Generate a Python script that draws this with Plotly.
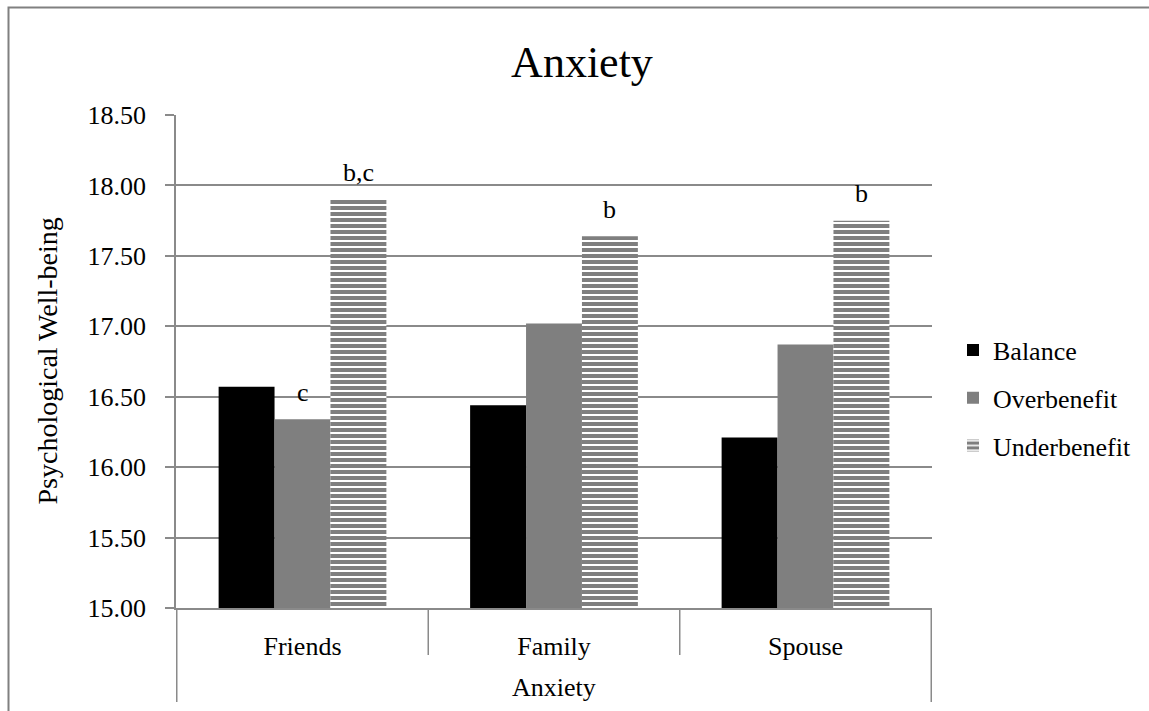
import plotly.graph_objects as go

categories = ["Friends", "Family", "Spouse"]
balance = [16.57, 16.44, 16.21]
overbenefit = [16.34, 17.02, 16.87]
underbenefit = [17.90, 17.64, 17.75]
series_names = ["Balance", "Overbenefit", "Underbenefit"]
y_ticks = [15.0, 15.5, 16.0, 16.5, 17.0, 17.5, 18.0, 18.5]
sig_labels = {("Overbenefit", 0): "c", ("Underbenefit", 0): "b,c",
              ("Underbenefit", 1): "b", ("Underbenefit", 2): "b"}

FONT = "Liberation Serif"
GRID = "#8a8a8a"
BARGAP = 0.333

fig = go.Figure()
fig.add_trace(go.Bar(name="Balance", x=categories, y=balance, marker_color="black",
                     marker_line_width=0, legendgroup="a"))
fig.add_trace(go.Bar(name="Overbenefit", x=categories, y=overbenefit, marker_color="#7f7f7f",
                     marker_line_width=0, legendgroup="b"))
fig.add_trace(go.Bar(name="Underbenefit", x=categories, y=underbenefit,
                     marker=dict(color="white", line_width=0,
                                 pattern=dict(shape="-", fgcolor="#7f7f7f", bgcolor="white",
                                              size=6, solidity=0.67, fillmode="replace")),
                     legendgroup="c"))

series_vals = {"Balance": balance, "Overbenefit": overbenefit, "Underbenefit": underbenefit}
w = (1 - BARGAP) / len(series_names)
annotations = []
for (name, ci), txt in sig_labels.items():
    j = series_names.index(name)
    annotations.append(dict(x=ci + (j - 1) * w, y=series_vals[name][ci], xref="x", yref="y",
                            text=txt, showarrow=False, yanchor="middle", yshift=27,
                            font=dict(family=FONT, size=26, color="black")))

H = 493.0
annotations.append(dict(x=0.5, y=-79 / H, xref="paper", yref="paper", text="Anxiety",
                        showarrow=False, yanchor="middle",
                        font=dict(family=FONT, size=26, color="black")))
annotations.append(dict(x=(47 - 176) / 756, y=0.5, xref="paper", yref="paper",
                        text="Psychological Well-being", textangle=-90, showarrow=False,
                        xanchor="center", yanchor="middle",
                        font=dict(family=FONT, size=28, color="black")))

shapes = []
n = len(categories)
for k in range(n + 1):
    edge = k == 0 or k == n
    shapes.append(dict(type="line", xref="x", yref="paper", x0=k - 0.5, x1=k - 0.5,
                       y0=0, y1=(-94 if edge else -47) / H,
                       line=dict(color=GRID, width=1.5)))
# chart border
shapes.append(dict(type="rect", xref="paper", yref="paper",
                   x0=(8.5 - 176) / 756, x1=1.4, y0=-0.3, y1=(608 - 7.5) / H,
                   line=dict(color="#808080", width=2), fillcolor="rgba(0,0,0,0)"))

fig.update_layout(
    width=1149, height=711,
    margin=dict(l=176, r=217, t=115, b=103),
    paper_bgcolor="white", plot_bgcolor="white",
    barmode="group", bargap=BARGAP, bargroupgap=0,
    title=dict(text="Anxiety", x=(582 - 176) / 756, xref="paper", xanchor="center",
               y=1 - 62 / 711, yanchor="middle",
               font=dict(family=FONT, size=44, color="black")),
    font=dict(family=FONT, color="black"),
    legend=dict(x=(953 - 176) / 756, xanchor="left", y=(608 - 398) / H, yanchor="middle",
                font=dict(family=FONT, size=26, color="black"), tracegroupgap=11,
                bgcolor="rgba(0,0,0,0)"),
    annotations=annotations, shapes=shapes,
)
fig.update_xaxes(type="category", showline=True, linecolor=GRID, linewidth=1.5,
                 ticks="outside", ticklen=14, tickcolor="rgba(0,0,0,0)",
                 tickfont=dict(family=FONT, size=26, color="black"), showgrid=False)
fig.update_yaxes(range=[15, 18.5], tickvals=y_ticks, ticktext=[f"{v:.2f}" for v in y_ticks],
                 showgrid=True, gridcolor=GRID, gridwidth=1.5, showline=True, linecolor=GRID,
                 linewidth=1.5, ticks="outside", ticklen=9, tickcolor=GRID, tickwidth=1.5,
                 ticklabelstandoff=14, zeroline=False,
                 tickfont=dict(family=FONT, size=26, color="black"))

fig.write_html("out.html")
